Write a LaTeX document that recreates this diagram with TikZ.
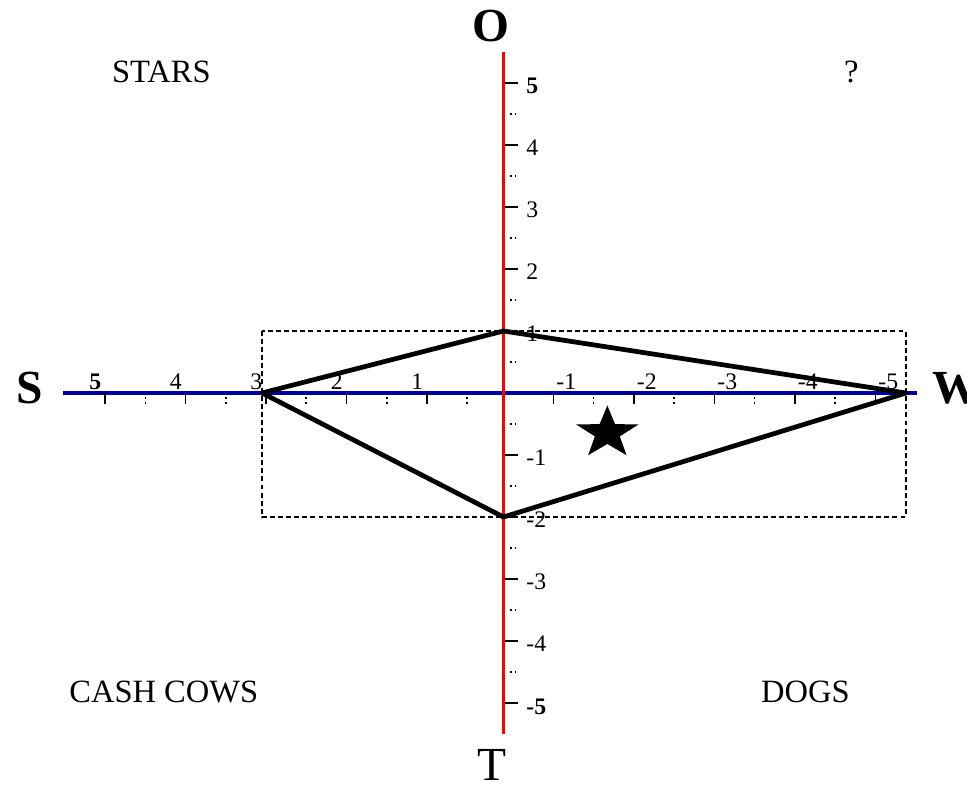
\documentclass[tikz,border=0pt]{standalone}
\usepackage{fontspec}
\setmainfont{Liberation Serif}
\usetikzlibrary{shapes.geometric}
\definecolor{axisred} {HTML}{FF0000}
\definecolor{axisblue}{HTML}{00008B}

\begin{document}
\begin{tikzpicture}[x=-1.61cm, y=1.24cm,
    axislab/.style={font=\fontsize{27}{30}\selectfont},
    quadlab/.style={font=\fontsize{18.5}{21}\selectfont},
    ticklab/.style={font=\fontsize{13.5}{15}\selectfont, inner sep=0pt},
    halftick/.style={line width=0.9pt, dash pattern=on 0.9pt off 1.8pt},
    fulltick/.style={line width=0.9pt}]
 \useasboundingbox (6.255,-6.355) rectangle (-5.758,6.339);
 % axis ends
 \coordinate (sEnd) at (5.47,0);
 \coordinate (wEnd) at (-5.14,0);
 \coordinate (oEnd) at (0,5.5);
 \coordinate (tEnd) at (0,-5.5);
 % S--W axis
 \draw[axisblue, line width=2pt] (sEnd) -- (wEnd);
 \foreach \k in {1,...,5}{
   \draw[fulltick] (\k-0.05,0) -- ++(0,-0.18);
   \draw[fulltick] (-\k+0.38,0) -- ++(0,-0.18);
 }
 \foreach \k in {0,...,4}
   \draw[halftick] (\k+0.45,-0.07) -- ++(0,-0.1);
 \foreach \k in {1,...,4}
   \draw[halftick] (-\k-0.12,-0.07) -- ++(0,-0.1);
 \foreach \k in {1,...,4}{
   \node[ticklab] at (\k+0.07,0.18) {\k};
   \node[ticklab] at (-\k+0.22,0.18) {-\k};
 }
 \node[ticklab] at (5.07,0.18) {\textbf{5}};
 \node[ticklab] at (-4.78,0.18) {-5};
 % O--T axis
 \draw[axisred, line width=1.9pt] (oEnd) -- (tEnd);
 \foreach \k in {1,...,5}{
   \draw[fulltick] (-0.02,\k) -- (-0.18,\k);
   \draw[fulltick] (-0.02,-\k) -- (-0.18,-\k);
 }
 \foreach \k in {-5,...,4}
   \draw[halftick] (-0.08,\k+0.5) -- (-0.19,\k+0.5);
 \foreach \k in {1,...,4}{
   \node[ticklab, anchor=west] at (-0.28,\k-0.04) {\k};
   \node[ticklab, anchor=west] at (-0.28,-\k-0.05) {-\k};
 }
 \node[ticklab, anchor=west] at (-0.28,4.96) {\textbf{5}};
 \node[ticklab, anchor=west] at (-0.28,-5.06) {\textbf{-5}};
 % axis names
 \node[axislab, font=\fontsize{27}{30}\selectfont\bfseries] (o) at (0.15,5.92) {O};
 \node[axislab] (t) at (0.14,-6.0) {T};
 \node[axislab, font=\fontsize{27}{30}\selectfont\bfseries] (s) at (5.89,0.08) {S};
 \node[axislab, font=\fontsize{27}{30}\selectfont\bfseries] (w) at (-5.62,0.08) {W};
 % quadrants
 \node[quadlab] (stars) at (4.25,5.18) {STARS};
 \node[quadlab] (quest) at (-4.32,5.18) {?};
 \node[quadlab] (cows)  at (4.22,-4.82) {CASH COWS};
 \node[quadlab] (dogs)  at (-3.75,-4.82) {DOGS};
 % strategic position
 \coordinate (s3) at (3,0);
 \coordinate (o1) at (0,1);
 \coordinate (w5) at (-5,0);
 \coordinate (t2) at (0,-2);
 \draw[line width=0.6pt, dash pattern=on 2.8pt off 1.8pt] (s3 |- o1) rectangle (w5 |- t2);
 \draw[line width=2.7pt, line join=round] (s3) -- (o1) -- (w5) -- (t2) -- cycle;
 \node[star, star points=5, star point ratio=2.5, fill, inner sep=0pt,
       minimum size=1.1cm, xscale=1.19, transform shape] (pos) at (-1.29,-0.645) {};
\end{tikzpicture}
\end{document}
